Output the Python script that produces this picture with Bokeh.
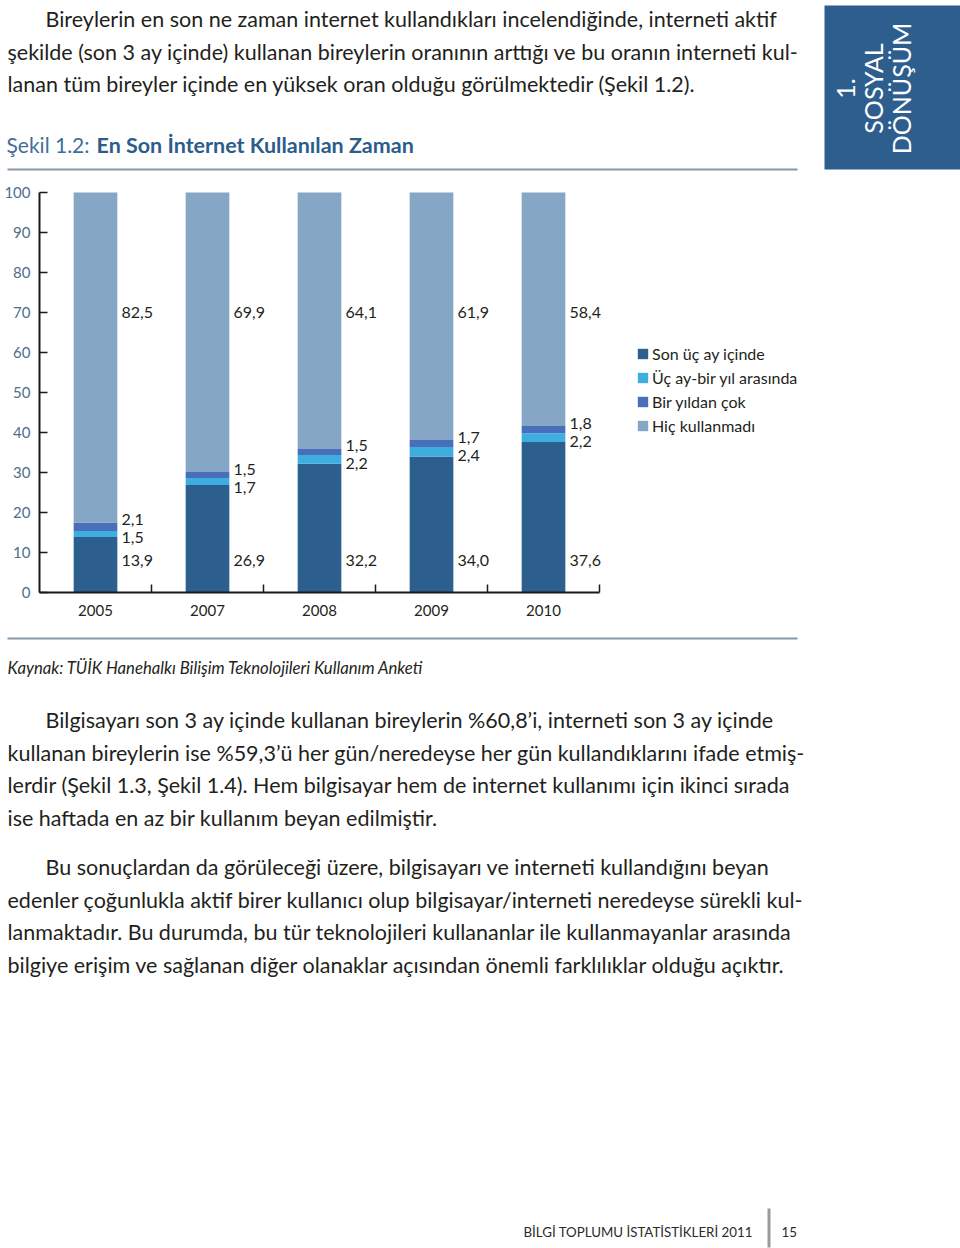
import math
from bokeh.plotting import figure
from bokeh.layouts import column
from bokeh.models import (ColumnDataSource, Range1d, Label, LabelSet,
                          Legend, LegendItem, FixedTicker)
from bokeh.core.properties import value
from bokeh.embed import file_html
from bokeh.resources import INLINE

# ---------------- data ----------------
years = ["2005", "2007", "2008", "2009", "2010"]
son_uc_ay = [13.9, 26.9, 32.2, 34.0, 37.6]
uc_ay_bir_yil = [1.5, 1.7, 2.2, 2.4, 2.2]
bir_yildan_cok = [2.1, 1.5, 1.5, 1.7, 1.8]
hic_kullanmadi = [82.5, 69.9, 64.1, 61.9, 58.4]
series_names = ["Son üç ay içinde", "Üç ay-bir yıl arasında", "Bir yıldan çok", "Hiç kullanmadı"]
y_ticks = [0, 10, 20, 30, 40, 50, 60, 70, 80, 90, 100]

para1 = [
    "Bireylerin en son ne zaman internet kullandıkları incelendiğinde, interneti aktif",
    "şekilde (son 3 ay içinde) kullanan bireylerin oranının arttığı ve bu oranın interneti kul-",
    "lanan tüm bireyler içinde en yüksek oran olduğu görülmektedir (Şekil 1.2).",
]
para2 = [
    "Bilgisayarı son 3 ay içinde kullanan bireylerin %60,8’i, interneti son 3 ay içinde",
    "kullanan bireylerin ise %59,3’ü her gün/neredeyse her gün kullandıklarını ifade etmiş-",
    "lerdir (Şekil 1.3, Şekil 1.4). Hem bilgisayar hem de internet kullanımı için ikinci sırada",
    "ise haftada en az bir kullanım beyan edilmiştir.",
]
para3 = [
    "Bu sonuçlardan da görüleceği üzere, bilgisayarı ve interneti kullandığını beyan",
    "edenler çoğunlukla aktif birer kullanıcı olup bilgisayar/interneti neredeyse sürekli kul-",
    "lanmaktadır. Bu durumda, bu tür teknolojileri kullananlar ile kullanmayanlar arasında",
    "bilgiye erişim ve sağlanan diğer olanaklar açısından önemli farklılıklar olduğu açıktır.",
]
title_prefix = "Şekil 1.2:"
title_main = "En Son İnternet Kullanılan Zaman"
source_text = "Kaynak: TÜİK Hanehalkı Bilişim Teknolojileri Kullanım Anketi"
banner_lines = ["1.", "SOSYAL", "DÖNÜŞÜM"]
footer_text = "BİLGİ TOPLUMU İSTATİSTİKLERİ 2011"
page_number = "15"

colors = ["#2c5e8e", "#3eaddf", "#4a6fba", "#85a6c4"]
FONT = "Lato"
TEXT = "#231f20"
W = 960

# ---------------- helpers for page figures ----------------
def page_fig(top, bottom):
    f = figure(width=W, height=bottom - top, x_range=Range1d(0, W), y_range=Range1d(bottom, top),
               min_border=0, x_axis_location=None, y_axis_location=None,
               output_backend="svg", toolbar_location=None,
               background_fill_color="white", border_fill_color="white", outline_line_color=None)
    f.grid.visible = False
    return f

def page_label(f, x, y, text, size, color=TEXT, style="normal", align="left", angle=0.0):
    f.add_layout(Label(x=x, y=y, text=text, text_font=FONT, text_font_size=f"{size}px",
                       text_color=color, text_font_style=style, text_align=align,
                       text_baseline="middle", angle=angle))

def page_box(f, left, right, top, bottom, color):
    f.quad(left=[left], right=[right], top=[top], bottom=[bottom], fill_color=color, line_color=None)

BODY = 21.5
LEAD = 32.7

# ---------------- top block ----------------
top = page_fig(0, 178)
for i, line in enumerate(para1):
    page_label(top, 45 if i == 0 else 7, 18.5 + i * LEAD, line, BODY)
page_label(top, 6, 144, title_prefix, 21, color="#3f6e9b")
page_label(top, 96, 144, title_main, 21.5, color="#2b5d8c", style="bold")
page_box(top, 7, 797, 168, 170, "#8797aa")
page_box(top, 824, 960, 5, 169, "#2d5e8d")
for i, line in enumerate(banner_lines):
    page_label(top, 845 + i * 27.5, 88, line, 25, color="white", align="center", angle=math.pi / 2)

# ---------------- chart block (canvas y 178..632) ----------------
n = len(years)
centers = [i + 0.5 for i in range(n)]
bounds = [i + 1 for i in range(n)]
AXIS_PX = 39      # canvas x of the value axis
CAT_PX = 112      # pixels per category
PX_PER_UNIT = 4   # pixels per percentage point
TOP_PAD, BOT_PAD = 14, 40

p = figure(x_range=Range1d(-AXIS_PX / CAT_PX, (W - AXIS_PX) / CAT_PX),
           y_range=Range1d(-BOT_PAD / PX_PER_UNIT, 100 + TOP_PAD / PX_PER_UNIT),
           frame_width=W, frame_height=400 + TOP_PAD + BOT_PAD,
           min_border=0,
           output_backend="svg", toolbar_location=None,
           background_fill_color="white", border_fill_color="white", outline_line_color=None)
p.grid.visible = False

src = ColumnDataSource(dict(x=centers, s1=son_uc_ay, s2=uc_ay_bir_yil, s3=bir_yildan_cok, s4=hic_kullanmadi))
rs = p.vbar_stack(["s1", "s2", "s3", "s4"], x="x", width=0.39, source=src,
                  fill_color=colors, line_color=None)

p.yaxis.fixed_location = 0
p.yaxis.bounds = (0, 100)
p.yaxis.ticker = FixedTicker(ticks=y_ticks)
p.yaxis.major_tick_in = 8
p.yaxis.major_tick_out = 0
p.yaxis.minor_tick_line_color = None
p.yaxis.major_tick_line_width = 1.5
p.yaxis.major_tick_line_color = "#1a1a1a"
p.yaxis.axis_line_width = 2
p.yaxis.axis_line_color = "#1a1a1a"
p.yaxis.major_label_standoff = 9
p.yaxis.major_label_text_color = "#4f6d8c"
p.yaxis.major_label_text_font = FONT
p.yaxis.major_label_text_font_size = "15px"

p.xaxis.fixed_location = 0
p.xaxis.bounds = (0, n)
p.xaxis.ticker = FixedTicker(ticks=centers, minor_ticks=bounds)
p.xaxis.major_label_overrides = {c: y for c, y in zip(centers, years)}
p.xaxis.major_tick_line_color = None
p.xaxis.minor_tick_in = 8
p.xaxis.minor_tick_out = 0
p.xaxis.minor_tick_line_width = 1.5
p.xaxis.minor_tick_line_color = "#1a1a1a"
p.xaxis.axis_line_width = 2
p.xaxis.axis_line_color = "#1a1a1a"
p.xaxis.major_label_standoff = 6
p.xaxis.major_label_text_color = TEXT
p.xaxis.major_label_text_font = FONT
p.xaxis.major_label_text_font_size = "15px"

def fmt(v):
    return f"{v:.1f}".replace(".", ",")

tot3 = [a + b + c for a, b, c in zip(son_uc_ay, uc_ay_bir_yil, bir_yildan_cok)]
label_sets = [
    (son_uc_ay, [8] * n, 0),
    (uc_ay_bir_yil, tot3, -15),
    (bir_yildan_cok, tot3, 3),
    (hic_kullanmadi, [70] * n, 0),
]
for vals, ys, yoff in label_sets:
    s = ColumnDataSource(dict(x=centers, y=ys, t=[fmt(v) for v in vals]))
    p.add_layout(LabelSet(x="x", y="y", text="t", source=s, x_offset=26, y_offset=yoff,
                          text_font=value(FONT), text_font_size=value("16px"), text_color=TEXT,
                          text_align="left", text_baseline="middle"))

legend = Legend(items=[LegendItem(label=nm, renderers=[r]) for nm, r in zip(series_names, rs)],
                location=(636, 157 + BOT_PAD), orientation="vertical",
                label_text_font=FONT, label_text_font_size="16px", label_text_color=TEXT,
                glyph_width=13, glyph_height=13, label_height=20, spacing=4, label_standoff=3,
                padding=0, margin=0, border_line_color=None, background_fill_alpha=0)
p.add_layout(legend)

# ---------------- bottom block ----------------
bot = page_fig(632, 1248)
page_box(bot, 7, 797, 637, 639, "#8797aa")
page_label(bot, 7, 667, source_text, 16.7, style="italic")
for i, line in enumerate(para2):
    page_label(bot, 45 if i == 0 else 7, 719.5 + i * LEAD, line, BODY)
for i, line in enumerate(para3):
    page_label(bot, 45 if i == 0 else 7, 866.5 + i * LEAD, line, BODY)
page_label(bot, 523, 1231, footer_text, 13.3, color="#2a2a2a")
page_box(bot, 767, 770, 1208, 1247, "#9a9a9a")
page_label(bot, 781, 1231, page_number, 13.3, color="#2a2a2a")

layout = column(top, p, bot, spacing=0)
open("out.html", "w").write(file_html(layout, INLINE))
